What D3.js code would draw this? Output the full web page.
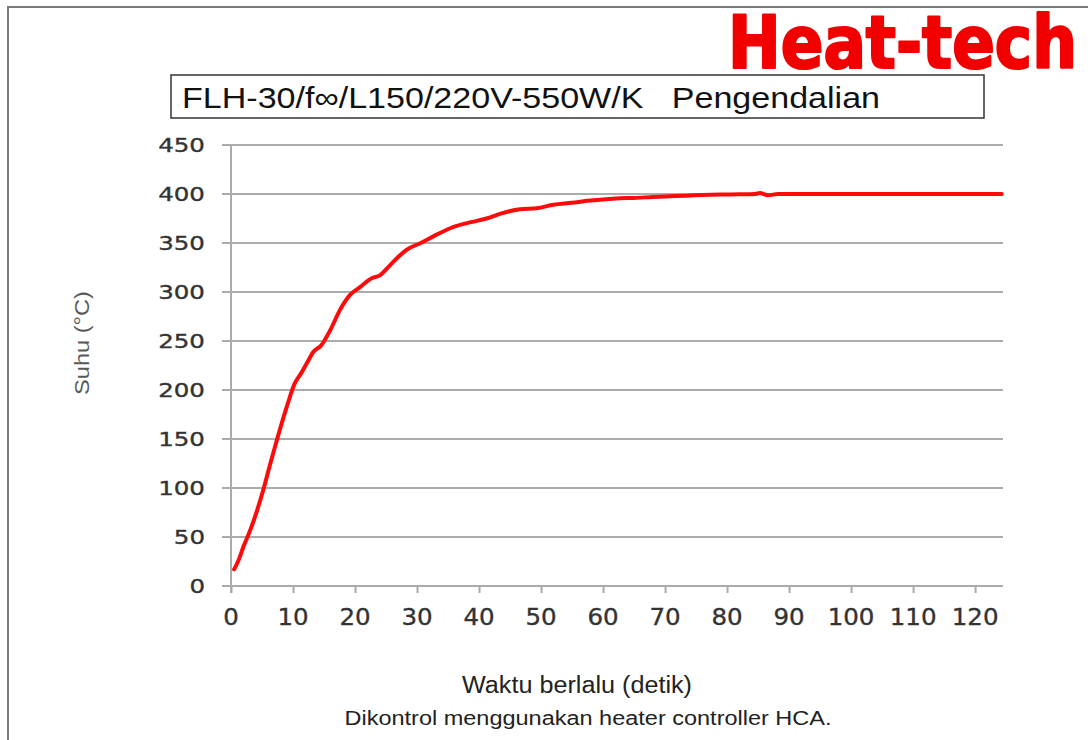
<!DOCTYPE html>
<html>
<head>
<meta charset="utf-8">
<script src="https://cdn.jsdelivr.net/npm/d3@7"></script>
<style>
  html, body { margin: 0; padding: 0; background: #fff; }
  svg { display: block; }
</style>
</head>
<body>
<div id="chart"></div>
<script>
// ---- data ----
const timeSec = [0.5, 1.2, 2, 3.1, 4.2, 5.2, 6.3, 7.4, 9, 10.3, 11.2, 12.2, 13.3, 14.6, 16, 17.6, 19.2, 20.8, 22.7, 24, 25.6, 27, 28.3, 30.6, 33, 35.9, 38.5, 41.2, 43.5, 46.6, 49.3, 52, 55, 57.4, 60, 62.7, 65, 68.1, 70, 73.5, 76, 78.9, 82, 84.5, 85.3, 86.6, 88.2, 95, 105, 115, 124.3];
const tempC   = [17, 26, 40, 57, 77, 98, 124, 149, 183, 207, 216, 227, 239, 246, 261, 282, 297, 305, 314, 317, 327, 336, 343, 350, 358, 366.5, 371, 375, 380, 384.5, 385.5, 389, 391, 393, 394.5, 395.6, 396, 397, 397.5, 398.3, 399, 399.5, 399.7, 400, 401, 398.7, 400, 400, 400, 400, 400];
const xTicks = [0, 10, 20, 30, 40, 50, 60, 70, 80, 90, 100, 110, 120];
const yTicks = [0, 50, 100, 150, 200, 250, 300, 350, 400, 450];
const titleText = "FLH-30/f\u221E/L150/220V-550W/K\u00A0\u00A0\u00A0Pengendalian";
const brandText = "Heat-tech";
const yAxisTitle = "Suhu (\u00B0C)";
const xAxisTitle = "Waktu berlalu (detik)";
const noteText = "Dikontrol menggunakan heater controller HCA.";

// ---- layout ----
const W = 1088, H = 740;
const svg = d3.select("#chart").append("svg").attr("width", W).attr("height", H);

const x = d3.scaleLinear().domain([0, 124.5]).range([231, 1003]);
const y = d3.scaleLinear().domain([0, 450]).range([586, 145]);

// outer frame
svg.append("rect").attr("x", 8).attr("y", 7).attr("width", W + 20).attr("height", H + 20)
  .attr("fill", "none").attr("stroke", "#7a7a7a").attr("stroke-width", 2);

// brand
svg.append("text").attr("x", 728).attr("y", 68)
  .attr("font-family", "'Liberation Sans Narrow', 'DejaVu Sans Condensed', 'Liberation Sans', sans-serif")
  .attr("font-weight", "bold").attr("font-size", 73)
  .attr("textLength", 349).attr("lengthAdjust", "spacingAndGlyphs")
  .attr("fill", "#f20000").attr("stroke", "#f20000").attr("stroke-width", 2.2)
  .attr("stroke-linejoin", "round").text(brandText);

// title box
svg.append("rect").attr("x", 171).attr("y", 75).attr("width", 813).attr("height", 43)
  .attr("fill", "#fff").attr("stroke", "#333").attr("stroke-width", 1.5);
svg.append("text").attr("x", 182).attr("y", 108)
  .attr("font-family", "'Liberation Sans', Arial, sans-serif").attr("font-size", 30)
  .attr("textLength", 698).attr("lengthAdjust", "spacingAndGlyphs")
  .attr("fill", "#111").text(titleText);

// gridlines (extending left as ticks)
const grid = svg.append("g");
grid.selectAll("line").data(yTicks).join("line")
  .attr("x1", 222).attr("x2", x.range()[1])
  .attr("y1", d => y(d)).attr("y2", d => y(d))
  .attr("stroke", "#ababab").attr("stroke-width", 2);

// y axis line
svg.append("line").attr("x1", 231).attr("x2", 231).attr("y1", y(450)).attr("y2", y(0) + 7)
  .attr("stroke", "#ababab").attr("stroke-width", 2);

// x axis via d3 axis
const xAxis = d3.axisBottom(x).tickValues(xTicks).tickSize(7).tickPadding(0).tickFormat(() => "");
const gx = svg.append("g").attr("transform", `translate(0,${y(0)})`).call(xAxis);
gx.select(".domain").remove();
gx.selectAll(".tick line").attr("stroke", "#ababab").attr("stroke-width", 2);

// x tick labels
svg.append("g").selectAll("text").data(xTicks).join("text")
  .attr("x", d => x(d)).attr("y", 625)
  .attr("text-anchor", "middle")
  .attr("font-family", "'DejaVu Sans', Verdana, sans-serif").attr("font-size", 23)
  .attr("textLength", d => String(d).length * 15.6).attr("lengthAdjust", "spacingAndGlyphs")
  .attr("fill", "#333").attr("stroke", "#333").attr("stroke-width", 0.35).text(d => d);

// y tick labels
svg.append("g").selectAll("text").data(yTicks).join("text")
  .attr("x", 205).attr("y", d => y(d) + 7)
  .attr("text-anchor", "end")
  .attr("font-family", "'DejaVu Sans', Verdana, sans-serif").attr("font-size", 20)
  .attr("textLength", d => String(d).length * 15.6).attr("lengthAdjust", "spacingAndGlyphs")
  .attr("fill", "#333").attr("stroke", "#333").attr("stroke-width", 0.35).text(d => d);

// data line
const line = d3.line().x((d, i) => x(timeSec[i])).y(d => y(d)).curve(d3.curveMonotoneX);
svg.append("path").datum(tempC).attr("d", line)
  .attr("fill", "none").attr("stroke", "#ff0a0a").attr("stroke-width", 4)
  .attr("stroke-linejoin", "round").attr("stroke-linecap", "round");

// axis titles
svg.append("text").attr("transform", "translate(89,343) rotate(-90)")
  .attr("text-anchor", "middle")
  .attr("font-family", "'Liberation Sans', Arial, sans-serif").attr("font-size", 21)
  .attr("textLength", 104).attr("lengthAdjust", "spacingAndGlyphs")
  .attr("fill", "#595959").text(yAxisTitle);

svg.append("text").attr("x", 577).attr("y", 693).attr("text-anchor", "middle")
  .attr("font-family", "'Liberation Sans', Arial, sans-serif").attr("font-size", 23)
  .attr("textLength", 230).attr("lengthAdjust", "spacingAndGlyphs")
  .attr("fill", "#222").text(xAxisTitle);

svg.append("text").attr("x", 588).attr("y", 725).attr("text-anchor", "middle")
  .attr("font-family", "'Liberation Sans', Arial, sans-serif").attr("font-size", 20)
  .attr("textLength", 487).attr("lengthAdjust", "spacingAndGlyphs")
  .attr("fill", "#222").text(noteText);
</script>
</body>
</html>
